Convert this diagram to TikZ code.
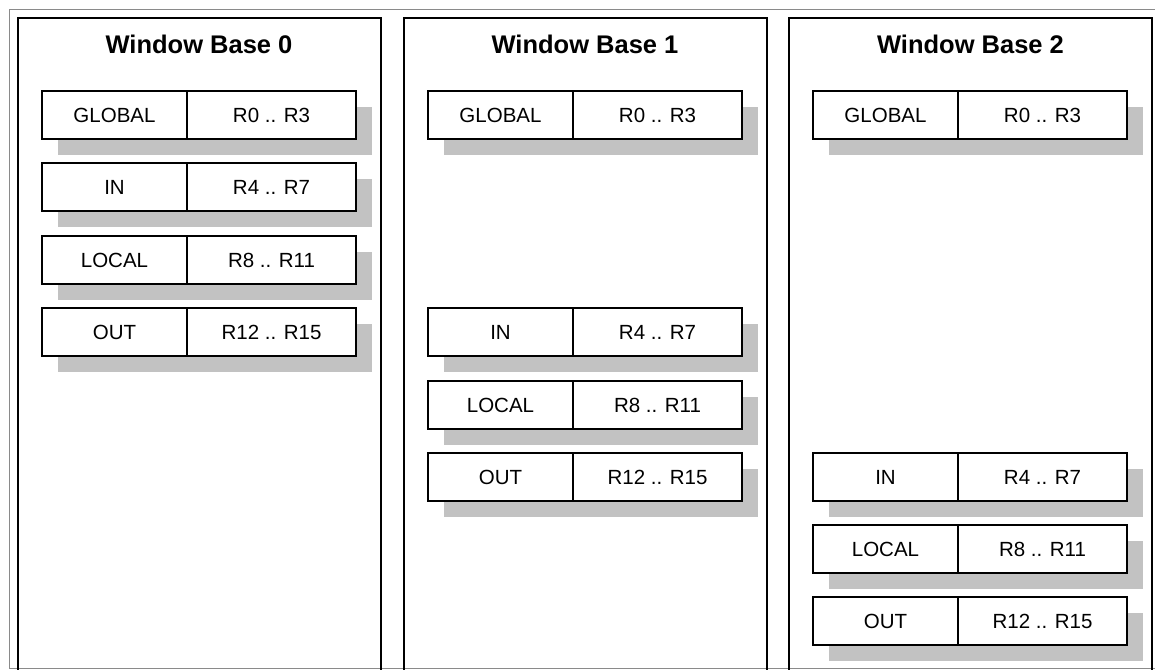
\documentclass[tikz,border=0pt]{standalone}
\usepackage{fontspec}
\setmainfont{Liberation Sans}
\usetikzlibrary{shadows}
\definecolor{shadowgray}{HTML}{C2C2C2}
\definecolor{framegray}{HTML}{8A8A8A}
\tikzset{
  x=1pt, y=-1pt,
  frame/.style={draw=framegray, line width=1pt},
  panel/.style={draw=black, line width=2pt},
  title/.style={font=\fontsize{25.5}{30}\selectfont\bfseries, anchor=center},
  cell/.style={draw=black, fill=white, line width=1.4pt, anchor=north west,
    minimum height=48pt, inner sep=0pt, outer sep=0pt,
    font=\fontsize{20.5}{24}\selectfont,
    drop shadow={shadow xshift=16pt, shadow yshift=-16pt, fill=shadowgray, opacity=1}},
  namecell/.style={cell, minimum width=145pt},
  rangecell/.style={cell, minimum width=169pt},
}
% one register group: name prefix, left x, top y, group label, register range
\newcommand\reggroup[5]{%
  \node[namecell] (#1n) at (#2,#3) {#4};
  \node[rangecell] (#1r) at (#1n.north east) {#5};
}
\begin{document}
\begin{tikzpicture}
\useasboundingbox (0,0) rectangle (1155,669);
% outer frame
\draw[frame] (9,668) -- (9,10) -- (1160,10);
\draw[frame] (9,668) -- (1160,668);

% window panels, open at the bottom
\foreach \px in {18, 403.5, 789} {
  \draw[panel] (\px,672) -- (\px,18) -- (\px+363,18) -- (\px+363,672);
}

% Window Base 0
\node[title] (t0) at (199,44) {Window Base 0};
\reggroup{g0}{42}{91}{GLOBAL}{R0 .. R3}
\reggroup{i0}{42}{163}{IN}{R4 .. R7}
\reggroup{l0}{42}{236}{LOCAL}{R8 .. R11}
\reggroup{o0}{42}{308}{OUT}{R12 .. R15}

% Window Base 1
\node[title] (t1) at (585,44) {Window Base 1};
\reggroup{g1}{428}{91}{GLOBAL}{R0 .. R3}
\reggroup{i1}{428}{308}{IN}{R4 .. R7}
\reggroup{l1}{428}{381}{LOCAL}{R8 .. R11}
\reggroup{o1}{428}{453}{OUT}{R12 .. R15}

% Window Base 2
\node[title] (t2) at (970.5,44) {Window Base 2};
\reggroup{g2}{813}{91}{GLOBAL}{R0 .. R3}
\reggroup{i2}{813}{453}{IN}{R4 .. R7}
\reggroup{l2}{813}{525}{LOCAL}{R8 .. R11}
\reggroup{o2}{813}{597}{OUT}{R12 .. R15}
\end{tikzpicture}
\end{document}
